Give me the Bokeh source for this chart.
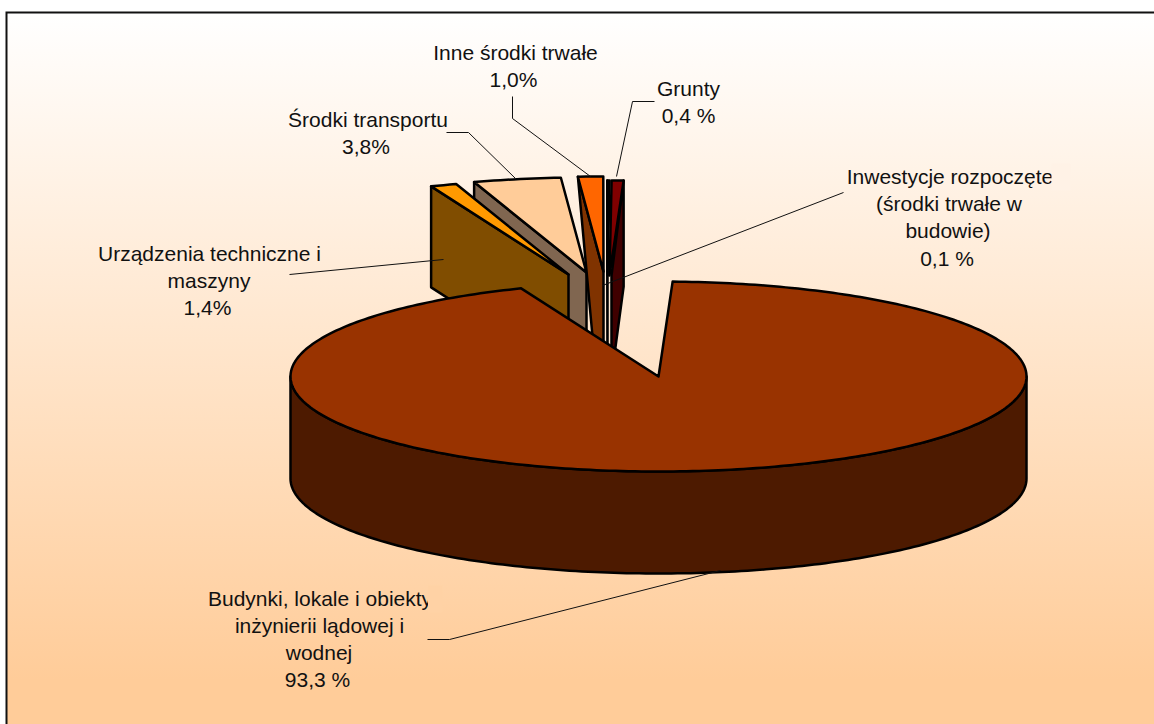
import numpy as np
from bokeh.plotting import figure
from bokeh.embed import file_html
from bokeh.resources import INLINE
from bokeh.core.properties import value

# ---- data ----
slice_names = ["Budynki", "Urzadzenia", "Transport", "Inne", "Inwestycje", "Grunty"]
slice_shares = [93.3, 1.15, 3.83, 1.1, 0.1, 0.52]
top_colors = ["#993300", "#FF9900", "#FFCC99", "#FF6600", "#330000", "#800000"]
side_colors = ["#4D1A00", "#804D00", "#806650", "#803300", "#1A0000", "#400000"]

label_buda = ["Budynki, lokale i obiekty", "inżynierii lądowej i", "wodnej", "93,3 %"]
label_urz = ["Urządzenia techniczne i", "maszyny", "1,4%"]
label_tra = ["Środki transportu", "3,8%"]
label_inn = ["Inne środki trwałe", "1,0%"]
label_gru = ["Grunty", "0,4 %"]
label_inw = ["Inwestycje rozpoczęte", "(środki trwałe w", "budowie)", "0,1 %"]

# ---- layout ----
W, H = 1154, 724
CX, CY, RX, RY, DEPTH = 658, 376, 368, 95, 101
START = 2.2
APEX = {"Urzadzenia": (568, 274), "Transport": (586, 272), "Inne": (603, 271),
        "Inwestycje": (607, 275), "Grunty": (609, 275)}
DRAW_ORDER = ["Transport", "Inne", "Inwestycje", "Grunty", "Urzadzenia"]
INK = "#000000"
FONT = "Liberation Sans"
FS = "21px"
LINE = 27.2
TOP_RGB, BOT_RGB = (255, 255, 255), (255, 204, 153)
GRAD_A, GRAD_B = 12, 680


def bg(y):
    t = min(max((y - GRAD_A) / (GRAD_B - GRAD_A), 0), 1)
    return "#%02x%02x%02x" % tuple(int(round(a + (b - a) * t)) for a, b in zip(TOP_RGB, BOT_RGB))


def arc(a0, a1, ox=CX, oy=CY, n=None):
    n = n or max(int(abs(a1 - a0)), 2) + 1
    t = np.radians(np.linspace(a0, a1, n))
    return ox + RX * np.sin(t), oy - RY * np.cos(t)


p = figure(width=W, height=H, x_range=(0, W), y_range=(H, 0), output_backend="svg",
           toolbar_location=None, min_border=0, outline_line_color=None,
           background_fill_color=None, border_fill_color=None)
p.axis.visible = False
p.grid.visible = False
p.styles = {
    "background-image": "linear-gradient(to right, #fff 6px, transparent 6px),"
                        f"linear-gradient(to bottom, #fff {GRAD_A}px, #FFCC99 {GRAD_B}px)",
}

# frame
p.line([6, 6, W], [H, 12, 12], line_color="#111111", line_width=2, line_join="miter")

# angular ranges from the shares
ang = {}
cur = START
for name, share in zip(slice_names, slice_shares):
    sweep = share * 3.6
    ang[name] = (cur, cur + sweep)
    cur += sweep
col = {n: (t, s) for n, t, s in zip(slice_names, top_colors, side_colors)}

stroke = dict(line_color=INK, line_width=2.5, line_join="round")

# exploded slices
for name in DRAW_ORDER:
    ax, ay = APEX[name]
    a0, a1 = ang[name]
    ax0, ay0 = arc(a0, a1, ax, ay)
    # wall of the cut that faces the viewer
    if name == "Grunty":
        wx = [ax0[-1], ax0[-1], ax + 2, ax + 2]
        wy = [ay0[-1], ay0[-1] + DEPTH + 5, ay + DEPTH, ay]
    elif name == "Inne":
        wx = [ax0[0], ax0[0] + (ax - ax0[0]) * 0.7, ax, ax]
        wy = [ay0[0], ay + DEPTH, ay + DEPTH, ay]
    else:
        wx = [ax0[0], ax0[0], ax, ax]
        wy = [ay0[0], ay0[0] + DEPTH, ay + DEPTH, ay]
    p.patch(wx, wy, fill_color=col[name][1], **stroke)
    p.patch([ax, *ax0], [ay, *ay0], fill_color=col[name][0], **stroke)

# main slice: side then top
sx, sy = arc(90, 270)
p.patch([*sx, *sx[::-1]], [*sy, *(sy[::-1] + DEPTH + 1)], fill_color=col["Budynki"][1], **stroke)
tx, ty = arc(*ang["Budynki"])
p.patch([CX, *tx], [CY, *ty], fill_color=col["Budynki"][0], **stroke)

# labels: lines, centre x of each line, y of the first line
labels = [
    (label_inn, [515, 513], 51.5), (label_gru, [688, 688], 88),
    (label_tra, [367.5, 365.5], 119), (label_inw, [949.5, 948.5, 947.5, 946.5], 176),
    (label_urz, [209, 208.5, 207], 253), (label_buda, [319.5, 319, 318.5, 317], 597.5),
]
for lines, xs, y in labels:
    p.text(xs, [y + i * LINE for i in range(len(lines))], text=lines,
           text_font=value(FONT), text_font_size=FS, text_color="#111111",
           text_align="center", text_baseline="middle")

# clipped ends of the long label lines
for x0, x1, y0, y1 in [(427.5, 442, 585, 612), (1051, 1070, 163, 190)]:
    p.quad(left=[x0], right=[x1], top=[y0], bottom=[y1], fill_color=bg((y0 + y1) / 2), line_color=None)

# leader lines
leaders = [
    ([512, 512, 590], [96, 118, 176]),
    ([654, 632, 616], [101, 101, 176]),
    ([446, 468, 515], [132, 132, 178]),
    ([289, 443], [274, 259]),
    ([843, 602], [192, 285]),
    ([427, 449, 720], [639, 639, 570]),
]
for xs, ys in leaders:
    p.line(xs, ys, line_color="#111111", line_width=1)

open("out.html", "w").write(file_html(p, INLINE))
